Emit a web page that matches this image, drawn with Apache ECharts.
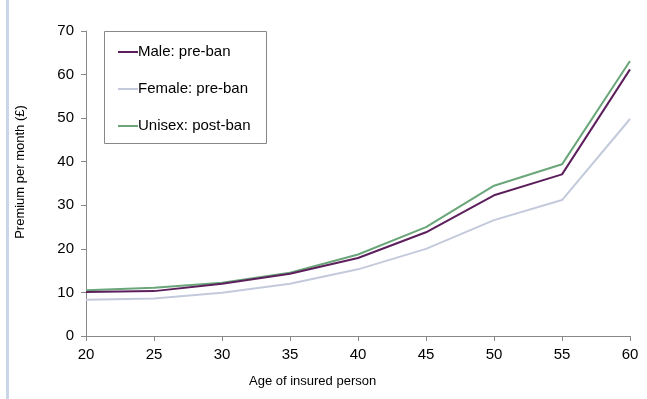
<!DOCTYPE html>
<html>
<head>
<meta charset="utf-8">
<script src="https://cdn.jsdelivr.net/npm/echarts@6/dist/echarts.min.js"></script>
<style>
html,body{margin:0;padding:0;background:#fff;}
#c{width:647px;height:399px;}
</style>
</head>
<body>
<div id="c"></div>
<script>
var ages = [20, 25, 30, 35, 40, 45, 50, 55, 60];
var malePre = [10.1, 10.3, 12.0, 14.3, 17.9, 23.8, 32.3, 37.1, 61.2];
var femalePre = [8.3, 8.6, 9.9, 12.0, 15.3, 20.0, 26.6, 31.2, 49.8];
var unisexPost = [10.5, 11.1, 12.2, 14.5, 18.7, 25.0, 34.5, 39.4, 63.1];
var seriesNames = ['Male: pre-ban', 'Female: pre-ban', 'Unisex: post-ban'];
var yTicks = [0, 10, 20, 30, 40, 50, 60, 70];

function pairs(v){ return ages.map(function(a,i){ return [a, v[i]]; }); }

var font = 'Liberation Sans, Arial, sans-serif';
var chart = echarts.init(document.getElementById('c'), null, {renderer:'canvas'});
var colors = ['#5c1f5c', '#c3cadb', '#6aa67a'];
chart.setOption({
  animation:false,
  backgroundColor:'#fff',
  grid:{left:86, right:17, top:31, bottom:63},
  xAxis:{
    type:'value', min:20, max:60, interval:5,
    axisLine:{show:true, lineStyle:{color:'#888', width:1}},
    axisTick:{show:true, length:5, lineStyle:{color:'#888'}},
    axisLabel:{color:'#000', fontSize:15, fontFamily:font, margin:11},
    splitLine:{show:false}
  },
  yAxis:{
    type:'value', min:yTicks[0], max:yTicks[yTicks.length-1], interval:10,
    axisLine:{show:true, lineStyle:{color:'#888', width:1}},
    axisTick:{show:true, length:5, lineStyle:{color:'#888'}},
    axisLabel:{color:'#000', fontSize:15, fontFamily:font, margin:12},
    splitLine:{show:false}
  },
  legend:{
    show:true, orient:'vertical', left:118, top:44,
    itemWidth:20, itemHeight:2, itemGap:21, icon:'rect',
    padding:0, borderWidth:0,
    textStyle:{color:'#000', fontSize:15, fontFamily:font, padding:[0,0,0,-5], lineHeight:16},
    data:seriesNames
  },
  series:[
    {name:seriesNames[0], type:'line', data:pairs(malePre), symbol:'none', lineStyle:{color:colors[0], width:2}, itemStyle:{color:colors[0]}, z:3},
    {name:seriesNames[1], type:'line', data:pairs(femalePre), symbol:'none', lineStyle:{color:colors[1], width:2}, itemStyle:{color:colors[1]}, z:2},
    {name:seriesNames[2], type:'line', data:pairs(unisexPost), symbol:'none', lineStyle:{color:colors[2], width:2}, itemStyle:{color:colors[2]}, z:1}
  ],
  graphic:[
    {type:'rect', shape:{x:6, y:0, width:3, height:399}, style:{fill:'#c8d6e8'}, silent:true},
    {type:'rect', shape:{x:104.5, y:31.5, width:162, height:112}, style:{fill:'#fff', stroke:'#888', lineWidth:1}, z:-1, silent:true},
    {type:'text', left:249, top:375, style:{text:'Age of insured person', fill:'#000', fontSize:13, fontFamily:font}},
    {type:'text', x:20, y:172, rotation:Math.PI/2, style:{text:'Premium per month (£)', fill:'#000', fontSize:13, fontFamily:font, align:'center', verticalAlign:'middle'}}
  ]
});
</script>
</body>
</html>
